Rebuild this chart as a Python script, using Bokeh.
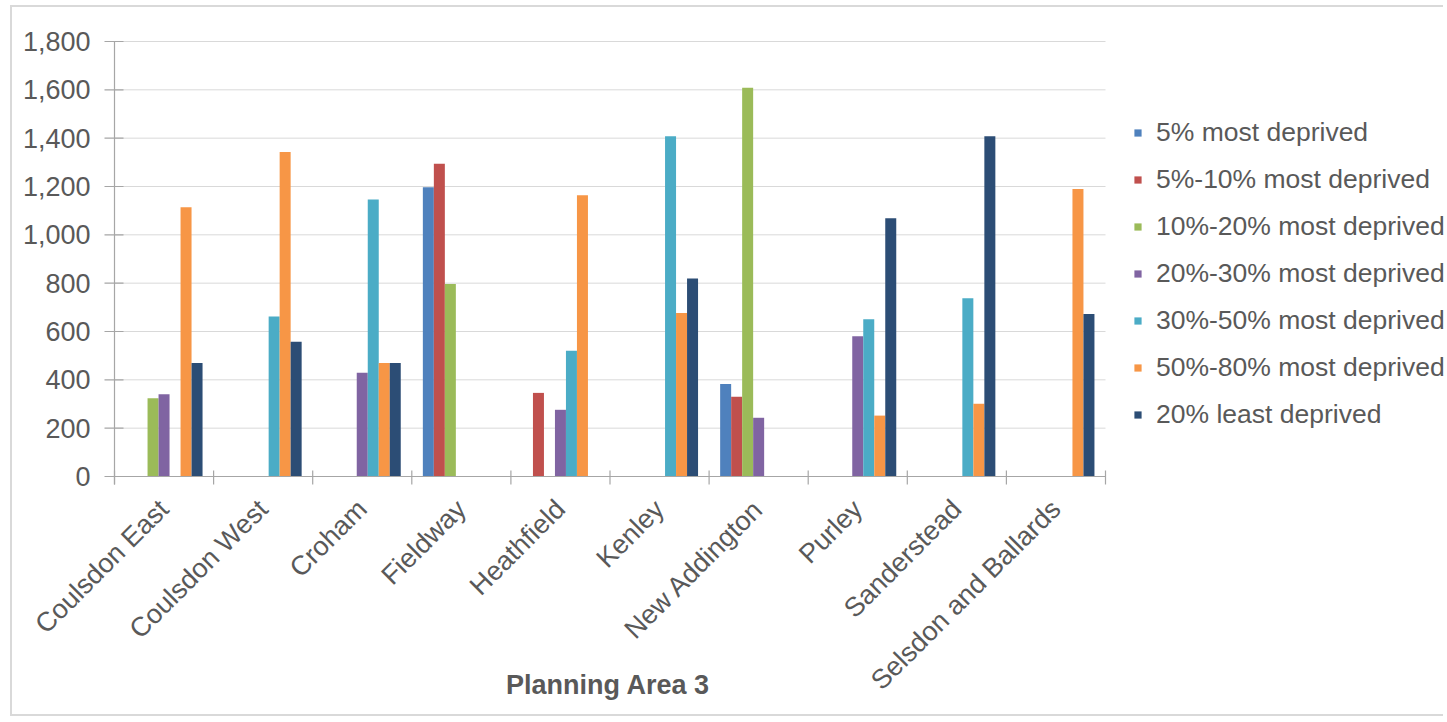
import math
import numpy as np
from bokeh.plotting import figure
from bokeh.models import Range1d, Legend, LegendItem, ColumnDataSource
from bokeh.core.properties import value
from bokeh.embed import file_html
from bokeh.resources import INLINE

categories = ["Coulsdon East", "Coulsdon West", "Croham", "Fieldway", "Heathfield",
              "Kenley", "New Addington", "Purley", "Sanderstead", "Selsdon and Ballards"]
series_names = ["5% most deprived", "5%-10% most deprived", "10%-20% most deprived",
                "20%-30% most deprived", "30%-50% most deprived", "50%-80% most deprived",
                "20% least deprived"]
most5 = [0, 0, 0, 1197, 0, 0, 383, 0, 0, 0]
most5_10 = [0, 0, 0, 1294, 346, 0, 330, 0, 0, 0]
most10_20 = [324, 0, 0, 797, 0, 0, 1609, 0, 0, 0]
most20_30 = [340, 0, 429, 0, 276, 0, 243, 580, 0, 0]
most30_50 = [0, 662, 1146, 0, 520, 1408, 0, 651, 738, 0]
most50_80 = [1114, 1343, 470, 0, 1164, 677, 0, 252, 301, 1190]
least20 = [470, 558, 470, 0, 0, 819, 0, 1069, 1408, 672]
series_values = [most5, most5_10, most10_20, most20_30, most30_50, most50_80, least20]
colors = ["#4F81BD", "#C0504D", "#9BBB59", "#8064A2", "#4BACC6", "#F79646", "#2C4D75"]
y_ticks = [0, 200, 400, 600, 800, 1000, 1200, 1400, 1600, 1800]
y_tick_labels = ["0", "200", "400", "600", "800", "1,000", "1,200", "1,400", "1,600", "1,800"]
x_title = "Planning Area 3"

FONT = "Liberation Sans"
TXT = "#595959"
AX = "#a6a6a6"
GRID = "#d9d9d9"

# layout in pixels (canvas coordinates); the frame fills the whole canvas so that
# no text is clipped, and the axes are drawn in it through the scales
W, H = 1433, 711
AX_LEFT, AX_TOP = 102, 34          # position of (0, y_max) in the canvas
PLOT_W, PLOT_H = 991, 435          # pixel size of the category / value area
ncat = len(categories)
y_max = y_ticks[-1]
upp = y_max / PLOT_H               # value units per pixel
xpp = ncat / PLOT_W                # category units per pixel

p = figure(width=W, height=H, output_backend="svg", toolbar_location=None,
           x_range=Range1d(-AX_LEFT * xpp, (W - AX_LEFT) * xpp),
           y_range=Range1d(-(H - AX_TOP - PLOT_H) * upp, y_max + AX_TOP * upp),
           x_axis_location=None, y_axis_location=None,
           min_border_left=0, min_border_right=0, min_border_top=0, min_border_bottom=0)
p.outline_line_color = None
p.background_fill_color = "white"
p.border_fill_color = "white"
p.xgrid.grid_line_color = None
p.ygrid.grid_line_color = None
p.styles = {"border-left": "2px solid #d9d9d9", "border-top": "2px solid #d9d9d9",
            "border-bottom": "2px solid #d9d9d9", "margin-left": "10px",
            "margin-top": "5px"}

nt = len(y_ticks)
# horizontal gridlines
p.segment(x0=[0] * nt, x1=[ncat] * nt, y0=y_ticks, y1=y_ticks,
          line_color=GRID, line_width=1)

# bars
centers = np.arange(ncat) + 0.5
bar_w = 0.111
n = len(series_names)
items = []
for i, (name, vals, col) in enumerate(zip(series_names, series_values, colors)):
    vals = np.array(vals, dtype=float)
    mask = vals > 0
    src = ColumnDataSource(dict(x=centers[mask] + (i - (n - 1) / 2) * bar_w, top=vals[mask]))
    r = p.vbar(x="x", top="top", bottom=0, width=bar_w, source=src,
               fill_color=col, line_color=None)
    items.append(LegendItem(label=name, renderers=[r]))

# value axis: line, cross ticks, labels
p.segment(x0=[0], x1=[0], y0=[-8 * upp], y1=[y_max], line_color=AX, line_width=1.2)
p.segment(x0=[-10 * xpp] * nt, x1=[9 * xpp] * nt, y0=y_ticks, y1=y_ticks,
          line_color=AX, line_width=1.2)
p.text(x=[0] * nt, y=y_ticks, text=y_tick_labels, x_offset=-24,
       text_align="right", text_baseline="middle", text_font=value(FONT),
       text_font_size="27px", text_color=TXT)

# category axis: line, boundary ticks, rotated labels, title
bounds = np.arange(ncat + 1)
p.segment(x0=[0], x1=[ncat], y0=[0], y1=[0], line_color=AX, line_width=1.2)
p.segment(x0=bounds, x1=bounds, y0=[6 * upp] * len(bounds), y1=[-8 * upp] * len(bounds),
          line_color=AX, line_width=1.2)
p.text(x=centers, y=[0] * ncat, text=categories, angle=math.pi / 4,
       y_offset=28, text_align="right", text_baseline="middle",
       text_font=value(FONT), text_font_size="27px", text_color=TXT)
p.text(x=[ncat / 2], y=[0], text=[x_title], x_offset=-2, y_offset=208,
       text_align="center", text_baseline="middle", text_font=value(FONT),
       text_font_size="27px", text_font_style="bold", text_color=TXT)

# legend (location measured from the frame's bottom-left corner)
legend = Legend(items=items, location=(AX_LEFT + 1019, H - AX_TOP - PLOT_H + 46),
                orientation="vertical",
                label_text_font=FONT, label_text_font_size="26.5px",
                label_text_color=TXT, glyph_width=9, glyph_height=9,
                label_standoff=14, spacing=16, padding=0, margin=0,
                border_line_color=None, background_fill_alpha=0)
p.add_layout(legend)

open("out.html", "w").write(file_html(p, INLINE))
